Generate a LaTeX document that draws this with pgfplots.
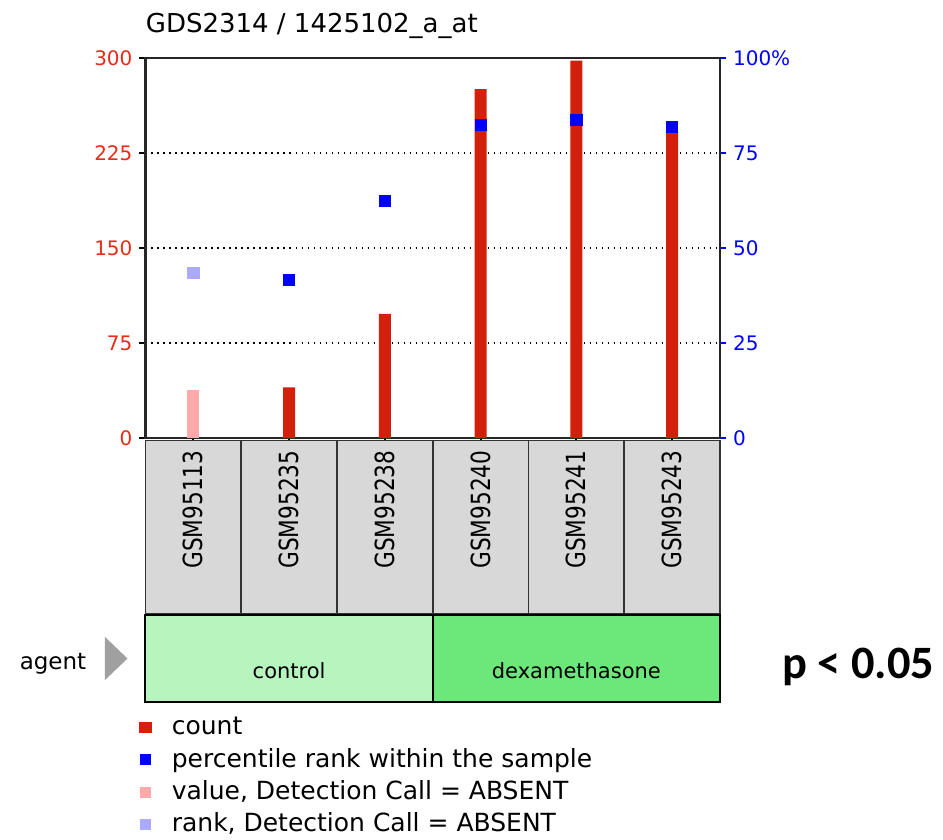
\documentclass[border=0pt]{standalone}
\usepackage{fontspec}
\setmainfont{DejaVu Sans}
\newfontfamily\pfont{Carlito}
\newfontfamily\condfont[FakeStretch=0.82]{DejaVu Sans}
\usepackage{pgfplots}
\pgfplotsset{compat=1.18}
\definecolor{countred}{RGB}{210,32,12}
\definecolor{absred}{RGB}{255,170,170}
\definecolor{rankblue}{RGB}{0,0,255}
\definecolor{absblue}{RGB}{170,170,255}
\definecolor{tickred}{RGB}{230,45,25}
\definecolor{boxgray}{RGB}{216,216,216}
\definecolor{ctrlgreen}{RGB}{184,244,190}
\definecolor{dexgreen}{RGB}{108,232,122}
\definecolor{trigray}{RGB}{160,160,160}
\begin{document}
\begin{tikzpicture}
\path[use as bounding box, fill=white] (0pt,0pt) rectangle (471.5pt,-420pt);
% ---------- left axis: count ----------
\begin{axis}[
  at={(72.75pt,-219pt)}, anchor=south west,
  scale only axis, width=287.25pt, height=190pt,
  xmin=-0.5, xmax=5.5, ymin=0, ymax=300,
  clip=false,
  axis line style={draw=black!85, line width=1.1pt},
  tick align=outside, major tick length=3pt,
  xtick={0,1,2,3,4,5},
  xticklabels={GSM95113,GSM95235,GSM95238,GSM95240,GSM95241,GSM95243},
  xtick pos=bottom,
  x tick style={draw=black, line width=0.9pt},
  x tick label style={rotate=90, anchor=east, font=\condfont\fontsize{13.2}{15}\selectfont,
     fill=boxgray, draw=black!80, line width=0.9pt, text width=76.75pt, align=right,
     minimum height=47.875pt, inner xsep=5pt, inner ysep=0pt, xshift=2.2pt},
  ytick={0,75,150,225,300},
  ytick pos=left,
  y tick style={draw=black, line width=0.8pt},
  yticklabel style={color=tickred, font=\fontsize{10}{12}\selectfont},
  /pgf/number format/assume math mode=true,
  ymajorgrids,
  major grid style={draw=black, line width=0.9pt, dash pattern=on 0.9pt off 2.1pt},
]
\addplot[ybar, bar width=6pt, bar shift=0pt, fill=absred, draw=none] coordinates {(0,38)};
\addplot[ybar, bar width=6pt, bar shift=0pt, fill=countred, draw=none] coordinates {(1,40) (2,98) (3,275.5) (4,298) (5,242)};
% agent row
\draw[fill=ctrlgreen, draw=black, line width=1pt] (rel axis cs:0,-0.4658) rectangle (rel axis cs:0.5,-0.6947);
\draw[fill=dexgreen, draw=black, line width=1pt] (rel axis cs:0.5,-0.4658) rectangle (rel axis cs:1,-0.6947);
\node[anchor=base, font=\fontsize{10.5}{12}\selectfont] at (rel axis cs:0.25,-0.6316) {control};
\node[anchor=base, font=\fontsize{10.5}{12}\selectfont] at (rel axis cs:0.75,-0.6316) {dexamethasone};
\node[anchor=base, font=\fontsize{11.5}{13}\selectfont] at (rel axis cs:-0.161,-0.6105) {agent};
\fill[trigray] (rel axis cs:-0.0705,-0.5237) -- (rel axis cs:-0.0313,-0.5803) -- (rel axis cs:-0.0705,-0.6368) -- cycle;
\node[anchor=base west, inner sep=0pt, font=\pfont\bfseries\fontsize{23.2}{27}\selectfont] at (rel axis cs:1.108,-0.6316) {p < 0.05};
\node[anchor=base west, font=\fontsize{13}{15}\selectfont, inner sep=0pt] at (rel axis cs:0,1.0658) {GDS2314 / 1425102\_a\_at};
\end{axis}
% ---------- right axis: percentile ----------
\begin{axis}[
  at={(72.75pt,-219pt)}, anchor=south west,
  scale only axis, width=287.25pt, height=190pt,
  xmin=-0.5, xmax=5.5, ymin=0, ymax=100,
  clip=false,
  axis x line=none, axis y line*=right,
  axis line style={draw=black!85, line width=1.1pt},
  tick align=outside, major tick length=3pt,
  ytick={0,25,50,75,100},
  yticklabels={0,25,50,75,100\%},
  y tick style={draw=rankblue, line width=0.8pt},
  yticklabel style={color=rankblue, font=\fontsize{10}{12}\selectfont},
  legend style={at={(rel axis cs:-0.0113,-0.7316)}, anchor=north west,
     draw=none, fill=none, inner sep=0pt, outer sep=0pt,
     font=\fontsize{12.5}{15}\selectfont, row sep=3.9pt,
     nodes={inner sep=0pt, text height=9.3pt, text depth=3pt},
     /tikz/every odd column/.style={column sep=10pt}},
  legend cell align=left,
]
\addlegendimage{legend image code/.code={\fill[countred] (0pt,-2pt) rectangle (6pt,3pt);}}
\addlegendentry{count}
\addplot[only marks, mark=square*, mark size=2.8pt, color=rankblue,
  legend image code/.code={\fill[rankblue] (0.5pt,-2pt) rectangle (5.5pt,3pt);}]
  coordinates {(1,41.6) (2,62.4) (3,82.4) (4,83.7) (5,81.8)};
\addlegendentry{percentile rank within the sample}
\addlegendimage{legend image code/.code={\fill[absred] (0.5pt,-2pt) rectangle (5.5pt,3pt);}}
\addlegendentry{value, Detection Call = ABSENT}
\addplot[only marks, mark=square*, mark size=2.8pt, color=absblue,
  legend image code/.code={\fill[absblue] (0.5pt,-2pt) rectangle (5.5pt,3pt);}]
  coordinates {(0,43.5)};
\addlegendentry{rank, Detection Call = ABSENT}
\end{axis}
\end{tikzpicture}
\end{document}
